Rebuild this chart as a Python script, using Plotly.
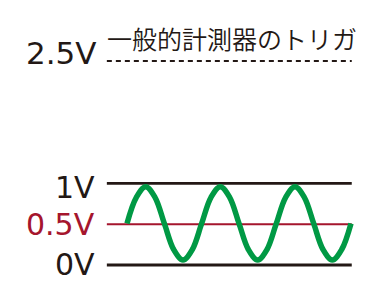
import plotly.graph_objects as go

# --- data (volts vs. time in signal periods) ---
wave_t = [0, 0.125, 0.25, 0.375, 0.5, 0.625, 0.75, 0.875,
          1, 1.125, 1.25, 1.375, 1.5, 1.625, 1.75, 1.875,
          2, 2.125, 2.25, 2.375, 2.5, 2.625, 2.75, 2.875, 3]
wave_v = [0.51, 0.83, 0.96, 0.83, 0.51, 0.19, 0.06, 0.19,
          0.51, 0.83, 0.96, 0.83, 0.51, 0.19, 0.06, 0.19,
          0.51, 0.83, 0.96, 0.83, 0.51, 0.19, 0.06, 0.19, 0.51]
level_t = [-0.27, 3.01]
levels_v = [0.0, 0.5, 1.0]
trigger_v = 2.5
level_labels = ["0V", "0.5V", "1V"]
trigger_label = "2.5V"
title_text = "一般的計測器のトリガ"

INK = "#231815"
RED = "#a5152d"
GREEN = "#009944"

fig = go.Figure()

# level lines
for v in levels_v:
    color = RED if v == 0.5 else INK
    width = 2.0 if v == 0.5 else 2.8
    fig.add_trace(go.Scatter(x=level_t, y=[v, v], mode="lines",
                             line=dict(color=color, width=width),
                             hoverinfo="skip"))

# trigger line (dashed)
fig.add_trace(go.Scatter(x=level_t, y=[trigger_v, trigger_v], mode="lines",
                         line=dict(color=INK, width=2.2, dash="5px,4px"),
                         hoverinfo="skip"))

# sine wave
fig.add_trace(go.Scatter(x=wave_t, y=wave_v, mode="lines",
                         line=dict(color=GREEN, width=5.5, shape="spline", smoothing=1.0),
                         hoverinfo="skip"))

label_font = "DejaVu Sans, Liberation Sans, Arial, sans-serif"
label_shift = {0.0: 1, 0.5: 0, 1.0: -4}
for v, lab in zip(levels_v, level_labels):
    fig.add_annotation(x=-0.40, y=v, text=lab, showarrow=False,
                       xanchor="right", yanchor="middle", yshift=label_shift[v],
                       font=dict(family=label_font, size=30,
                                 color=RED if v == 0.5 else INK))

fig.add_annotation(x=-0.37, y=trigger_v, text=trigger_label, showarrow=False,
                   xanchor="right", yanchor="bottom", yshift=-12,
                   font=dict(family=label_font, size=31, color=INK))

fig.add_annotation(x=-0.30, y=trigger_v, text=title_text, showarrow=False,
                   xanchor="left", yanchor="bottom", yshift=3,
                   font=dict(family="Noto Sans CJK JP, sans-serif", size=25,
                             color=INK, weight=350))

fig.update_layout(
    width=379, height=297,
    margin=dict(l=0, r=0, t=0, b=0),
    paper_bgcolor="white", plot_bgcolor="white",
    showlegend=False,
    xaxis=dict(range=[-1.701, 3.375], visible=False, fixedrange=True),
    yaxis=dict(range=[-0.392, 3.2475], visible=False, fixedrange=True),
)

fig.write_html("out.html", config={"displayModeBar": False})
